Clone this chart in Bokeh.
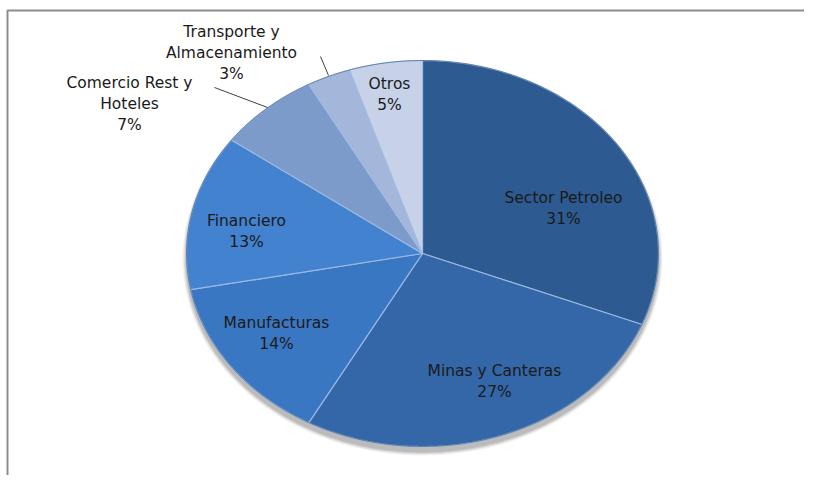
import numpy as np
from bokeh.plotting import figure
from bokeh.models import Range1d, ColumnDataSource
from bokeh.core.properties import value
from bokeh.embed import file_html
from bokeh.resources import INLINE

# ---- data ----
sectors = ["Sector Petroleo", "Minas y Canteras", "Manufacturas", "Financiero",
           "Comercio Rest y Hoteles", "Transporte y Almacenamiento", "Otros"]
shares = [31, 27, 14, 13, 7, 3, 5]
label_lines = [["Sector Petroleo"], ["Minas y Canteras"], ["Manufacturas"],
               ["Financiero"], ["Comercio Rest y", "Hoteles"],
               ["Transporte y", "Almacenamiento"], ["Otros"]]

# ---- style / layout ----
colors = ["#2d5a90", "#3467a7", "#3a77c2", "#4282cf", "#7c9bcb", "#a4b7da", "#c7d2e9"]
CX, CY, RX, RY = 422, 253, 236, 193
LINE_H = 21
label_top = [(563, 197), (494, 370), (276, 322), (246, 220),
             (129, 82), (231, 31), (389, 83)]
leaders = {4: ((214, 87), (267, 107)), 5: ((320, 56), (328, 75))}

W, H = 804, 475
p = figure(width=W, height=H, output_backend="svg", toolbar_location=None,
           x_range=Range1d(0, W), y_range=Range1d(H, 0),
           min_border=0, outline_line_color=None)
p.axis.visible = False
p.grid.visible = False
p.background_fill_color = "white"
p.border_fill_color = "white"

# frame (top and left edges)
p.line([7, 7, W + 5], [H + 5, 10, 10], line_color="#8c8c8c", line_width=2)

# soft shadow below the pie
t = np.linspace(0, 2 * np.pi, 200)
for k, a in enumerate([0.05, 0.06, 0.08, 0.10]):
    grow = 4 - k
    p.patch(CX + (RX + grow) * np.sin(t), CY + 5 - (RY + grow) * np.cos(t),
            fill_color="#000000", fill_alpha=a, line_color=None)

# slices
total = sum(shares)
cum = np.concatenate([[0], np.cumsum(shares)]) / total * 2 * np.pi
xs, ys = [], []
for i in range(len(shares)):
    th = np.linspace(cum[i], cum[i + 1], 120)
    xs.append(np.concatenate([[CX], CX + RX * np.sin(th), [CX]]))
    ys.append(np.concatenate([[CY], CY - RY * np.cos(th), [CY]]))
src = ColumnDataSource(dict(xs=xs, ys=ys, color=colors, name=sectors))
p.patches("xs", "ys", source=src, fill_color="color", line_color="#9fbbe3",
          line_width=1.2, line_alpha=0.9)

# rim edge
p.patch(CX + RX * np.sin(t), CY - RY * np.cos(t), fill_color=None,
        line_color="#244b7a", line_width=1, line_alpha=0.5)

# leader lines
for i, ((x0, y0), (x1, y1)) in leaders.items():
    p.line([x0, x1], [y0, y1], line_color="#404040", line_width=1)

# labels: name lines followed by the percentage
tx, ty, tt = [], [], []
for i, lines in enumerate(label_lines):
    x0, y0 = label_top[i]
    full = lines + [f"{round(shares[i] / total * 100)}%"]
    for k, s in enumerate(full):
        tx.append(x0)
        ty.append(y0 + k * LINE_H)
        tt.append(s)
lsrc = ColumnDataSource(dict(x=tx, y=ty, text=tt))
p.text("x", "y", text="text", source=lsrc, text_align="center", text_baseline="middle",
       text_font=value("DejaVu Sans"), text_font_size="15.5px", text_color="#1a1a1a")

open("out.html", "w").write(file_html(p, INLINE))
